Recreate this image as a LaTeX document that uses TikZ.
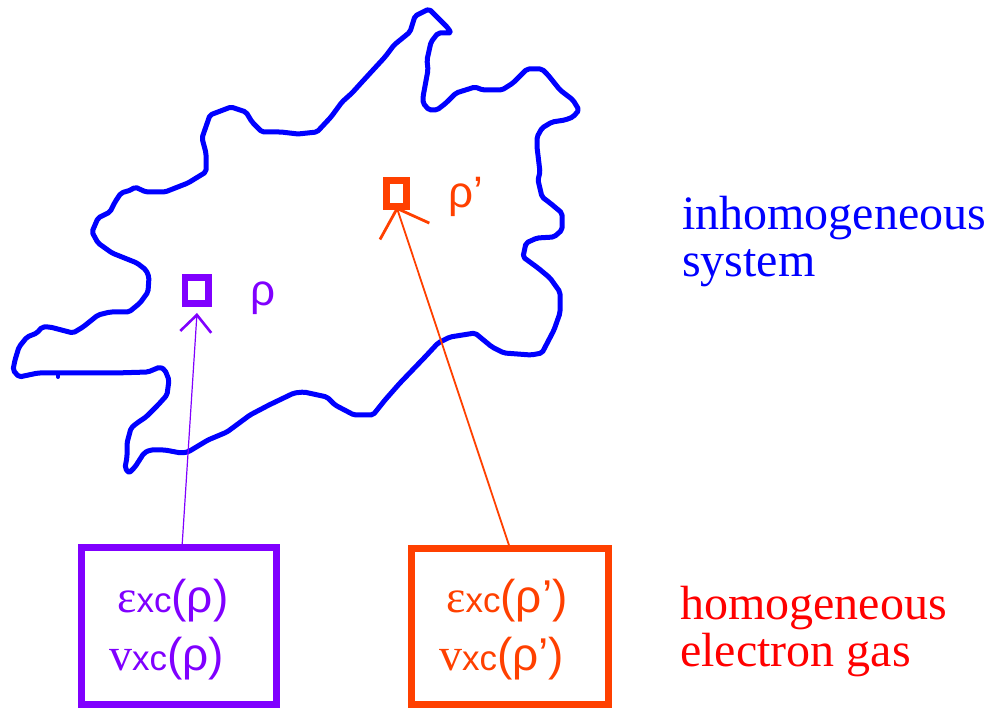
\documentclass[tikz,border=0pt]{standalone}
\usepackage{fontspec}
\setmainfont{Liberation Serif}
\newfontfamily\lsans{Liberation Sans}
\usetikzlibrary{arrows.meta}
\definecolor{blobblue}{RGB}{0,0,255}
\definecolor{pur}{RGB}{128,0,255}
\definecolor{org}{RGB}{255,64,0}
\definecolor{rd}{RGB}{255,0,0}
\newcommand\myeps{{\fontsize{46}{46}\selectfont ε}}
\newcommand\myv{{\fontsize{46}{46}\selectfont v}}
\newcommand\myxc{{\lsans\fontsize{35}{35}\selectfont xc}}
\newcommand\myarg[1]{{\lsans\fontsize{46}{46}\selectfont (#1)}}
\tikzset{
  blob/.style={draw=blobblue, line width=5pt, line join=round, line cap=round, rounded corners=2pt},
  cellsq/.style={draw, line width=6.5pt, inner sep=0pt, outer sep=0pt},
  gasbox/.style={draw, line width=6.5pt, inner sep=0pt, outer sep=0pt},
  boxtext/.style={inner sep=0pt, anchor=base west},
  biglabel/.style={inner sep=0pt, anchor=base west, align=left, font=\fontsize{48}{47}\selectfont},
  rholabel/.style={inner sep=0pt, anchor=base west, font=\lsans\fontsize{44}{44}\selectfont},
}
\begin{document}
\begin{tikzpicture}[x=1pt,y=-1pt]
\useasboundingbox (0,0) rectangle (997,719);
% blob outline
\draw[blob] (415,16) -- (429,9) -- (438,18) -- (448,28) -- (451,33) -- (438,33) -- (431,42) -- (427,60) -- (428,70) -- (423,97) -- (423,103) -- (429,110) -- (437,110) -- (446,103) -- (456,93) -- (475,87) -- (483,90) -- (502,90) -- (513,83) -- (527,69) -- (542,69) -- (548,75) -- (560,90) -- (573,100) -- (579,110) -- (573,117) -- (565,120) -- (552,122) -- (542,128) -- (537,137) -- (537,147) -- (540,172) -- (538,180) -- (542,197) -- (550,203) -- (562,213) -- (562,230) -- (554,237) -- (537,238) -- (526,243) -- (523,257) -- (538,268) -- (550,278) -- (560,292) -- (560,313) -- (554,330) -- (542,353) -- (531,355) -- (504,353) -- (492,347) -- (475,333) -- (450,337) -- (438,343) -- (425,357) -- (400,383) -- (385,400) -- (373,415) -- (354,415) -- (335,405) -- (327,397) -- (304,392) -- (294,393) -- (269,405) -- (250,415) -- (227,432) -- (208,440) -- (188,452) -- (181,453) -- (165,450) -- (150,450) -- (144,453) -- (135,467) -- (129,473) -- (125,468) -- (127,457) -- (127,443) -- (131,428) -- (137,423) -- (146,417) -- (158,405) -- (167,395) -- (169,380) -- (165,370) -- (160,367) -- (148,372) -- (115,373) -- (58,373) -- (38,373) -- (19,377) -- (13,370) -- (15,360) -- (19,347) -- (27,337) -- (37,333) -- (42,327) -- (50,327) -- (73,333) -- (83,327) -- (98,315) -- (110,312) -- (129,312) -- (140,303) -- (148,292) -- (149,277) -- (146,270) -- (137,263) -- (112,253) -- (98,243) -- (92,232) -- (98,218) -- (110,212) -- (115,202) -- (121,193) -- (131,190) -- (135,187) -- (146,192) -- (165,192) -- (188,183) -- (206,172) -- (206,153) -- (202,138) -- (210,115) -- (231,107) -- (246,112) -- (252,122) -- (262,132) -- (281,132) -- (298,134) -- (317,132) -- (331,117) -- (342,102) -- (352,93) -- (362,82) -- (373,70) -- (385,57) -- (394,45) -- (410,32) -- cycle;
\draw[draw=blobblue, line width=4pt, line cap=round] (58,373) -- (58,377);

% small cells
\node[cellsq, draw=pur, minimum width=23.4pt, minimum height=26.4pt] (psq) at (196.7,290.5) {};
\node[cellsq, draw=org, minimum width=20.4pt, minimum height=26.4pt] (rsq) at (396.5,193.5) {};
\node[rholabel, text=pur] (prho) at (250,306) {ρ};
\node[rholabel, text=org] (rrho) at (448,208) {ρ’};

% boxes
\node[gasbox, draw=pur, minimum width=195.4pt, minimum height=157.4pt] (pbox) at (179,626) {};
\node[gasbox, draw=org, minimum width=197.4pt, minimum height=156.4pt] (rbox) at (510,626.5) {};
\node[boxtext, text=pur] (pl1) at (117,612) {\myeps\myxc\myarg{ρ}};
\node[boxtext, text=pur] (pl2) at (109,670) {\myv\myxc\myarg{ρ}};
\node[boxtext, text=org] (rl1) at (446,612) {\myeps\myxc\myarg{ρ’}};
\node[boxtext, text=org] (rl2) at (439,670) {\myv\myxc\myarg{ρ’}};

% connectors
\coordinate (ptip) at (197,313);
\draw[pur, line width=1.2pt, -{Straight Barb[length=17pt, width=31pt, line width=2.6pt]}] ([xshift=3pt]pbox.north) -- (ptip);
\draw[org, line width=1.8pt, -{Straight Barb[length=24pt, width=52pt, line width=2.8pt]}] (rbox.north) -- (rsq.south);

% labels (base anchor sits on the last line)
\node[biglabel, text=blobblue] (inh) at (682,277) {inhomogeneous\\system};
\node[biglabel, text=rd] (hom) at (680,666) {homogeneous\\electron gas};
\end{tikzpicture}
\end{document}
